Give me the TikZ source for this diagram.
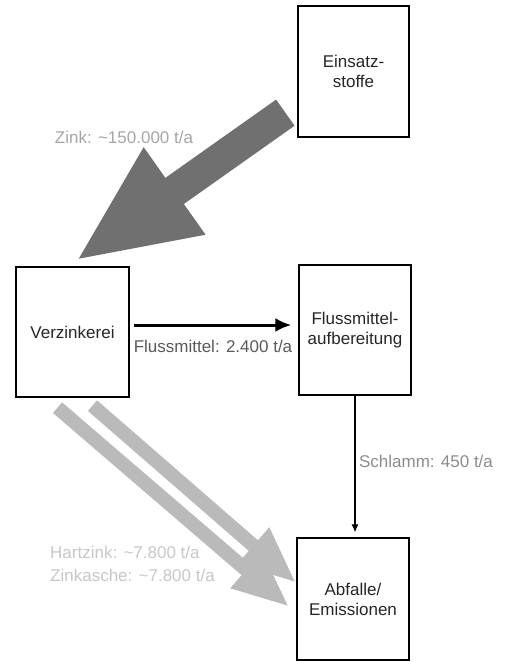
\documentclass[tikz,border=0pt]{standalone}
\usepackage{fontspec}
\setmainfont{Liberation Sans}
\usetikzlibrary{arrows.meta,calc}

\definecolor{zinkgray}{gray}{0.44}
\definecolor{restgray}{gray}{0.73}

\tikzset{
  box/.style={draw, rectangle, line width=1.3pt, minimum width=112pt, minimum height=130pt,
              align=center, text=black!85, font=\fontsize{17}{20}\selectfont},
  lbl/.style={inner sep=0pt, font=\fontsize{17}{20}\selectfont},
  zinkflow/.style={draw=zinkgray, line width=32pt, -{Triangle[width=97pt 0,length=122pt 0]}},
  restflow/.style={draw=restgray, line width=14pt, -{Triangle[width=44pt 0,length=57pt 0]}}
}

\begin{document}
\begin{tikzpicture}[x=1pt, y=-1pt]
\useasboundingbox (0,0) rectangle (508,662);

\node[box, minimum width=111pt, minimum height=131pt] (einsatz) at (353.5, 71.5) {Einsatz-\\stoffe};
\node[box, minimum width=113pt]                       (verz)    at ( 72.5,332)   {Verzinkerei};
\node[box]                                            (fluss)   at (355,  330)   {Flussmittel-\\aufbereitung};
\node[box, minimum height=122pt]                      (abfall)  at (353,  599)   {Abfalle/\\Emissionen};

\draw[zinkflow] ($(einsatz.south west)+(-12,-25)$) -- ($(verz.north)+(2.5,-5)$);
\node[lbl, text=black!35] (zinklbl) at (124,137) {Zink: \textasciitilde150.000 t/a};

\draw[-{Latex[length=16pt 0,width=14pt 0]}, line width=3pt] ($(verz.east)+(4,-7)$) -- ($(fluss.west)+(-7,-5)$);
\node[lbl, text=black!65] (flusslbl) at (213,346) {Flussmittel: 2.400 t/a};

\draw[-{Latex[length=8pt 0,width=7pt 0]}, line width=1.2pt] (fluss.south) -- ($(abfall.north)+(2,-5)$);
\node[lbl, text=black!45] (schlammlbl) at (426,461) {Schlamm: 450 t/a};

\draw[restflow] ($(verz.south)+(-15,10)$) -- ($(abfall.west)+(-7,8)$);
\draw[restflow] ($(verz.south)+(20,8)$) -- ($(abfall.west)+(0,-16)$);
\node[lbl, text=black!22, anchor=west] (hartlbl)  at (50,552) {Hartzink: \textasciitilde7.800 t/a};
\node[lbl, text=black!22, anchor=west] (aschelbl) at (50,575) {Zinkasche: \textasciitilde7.800 t/a};

\end{tikzpicture}
\end{document}
